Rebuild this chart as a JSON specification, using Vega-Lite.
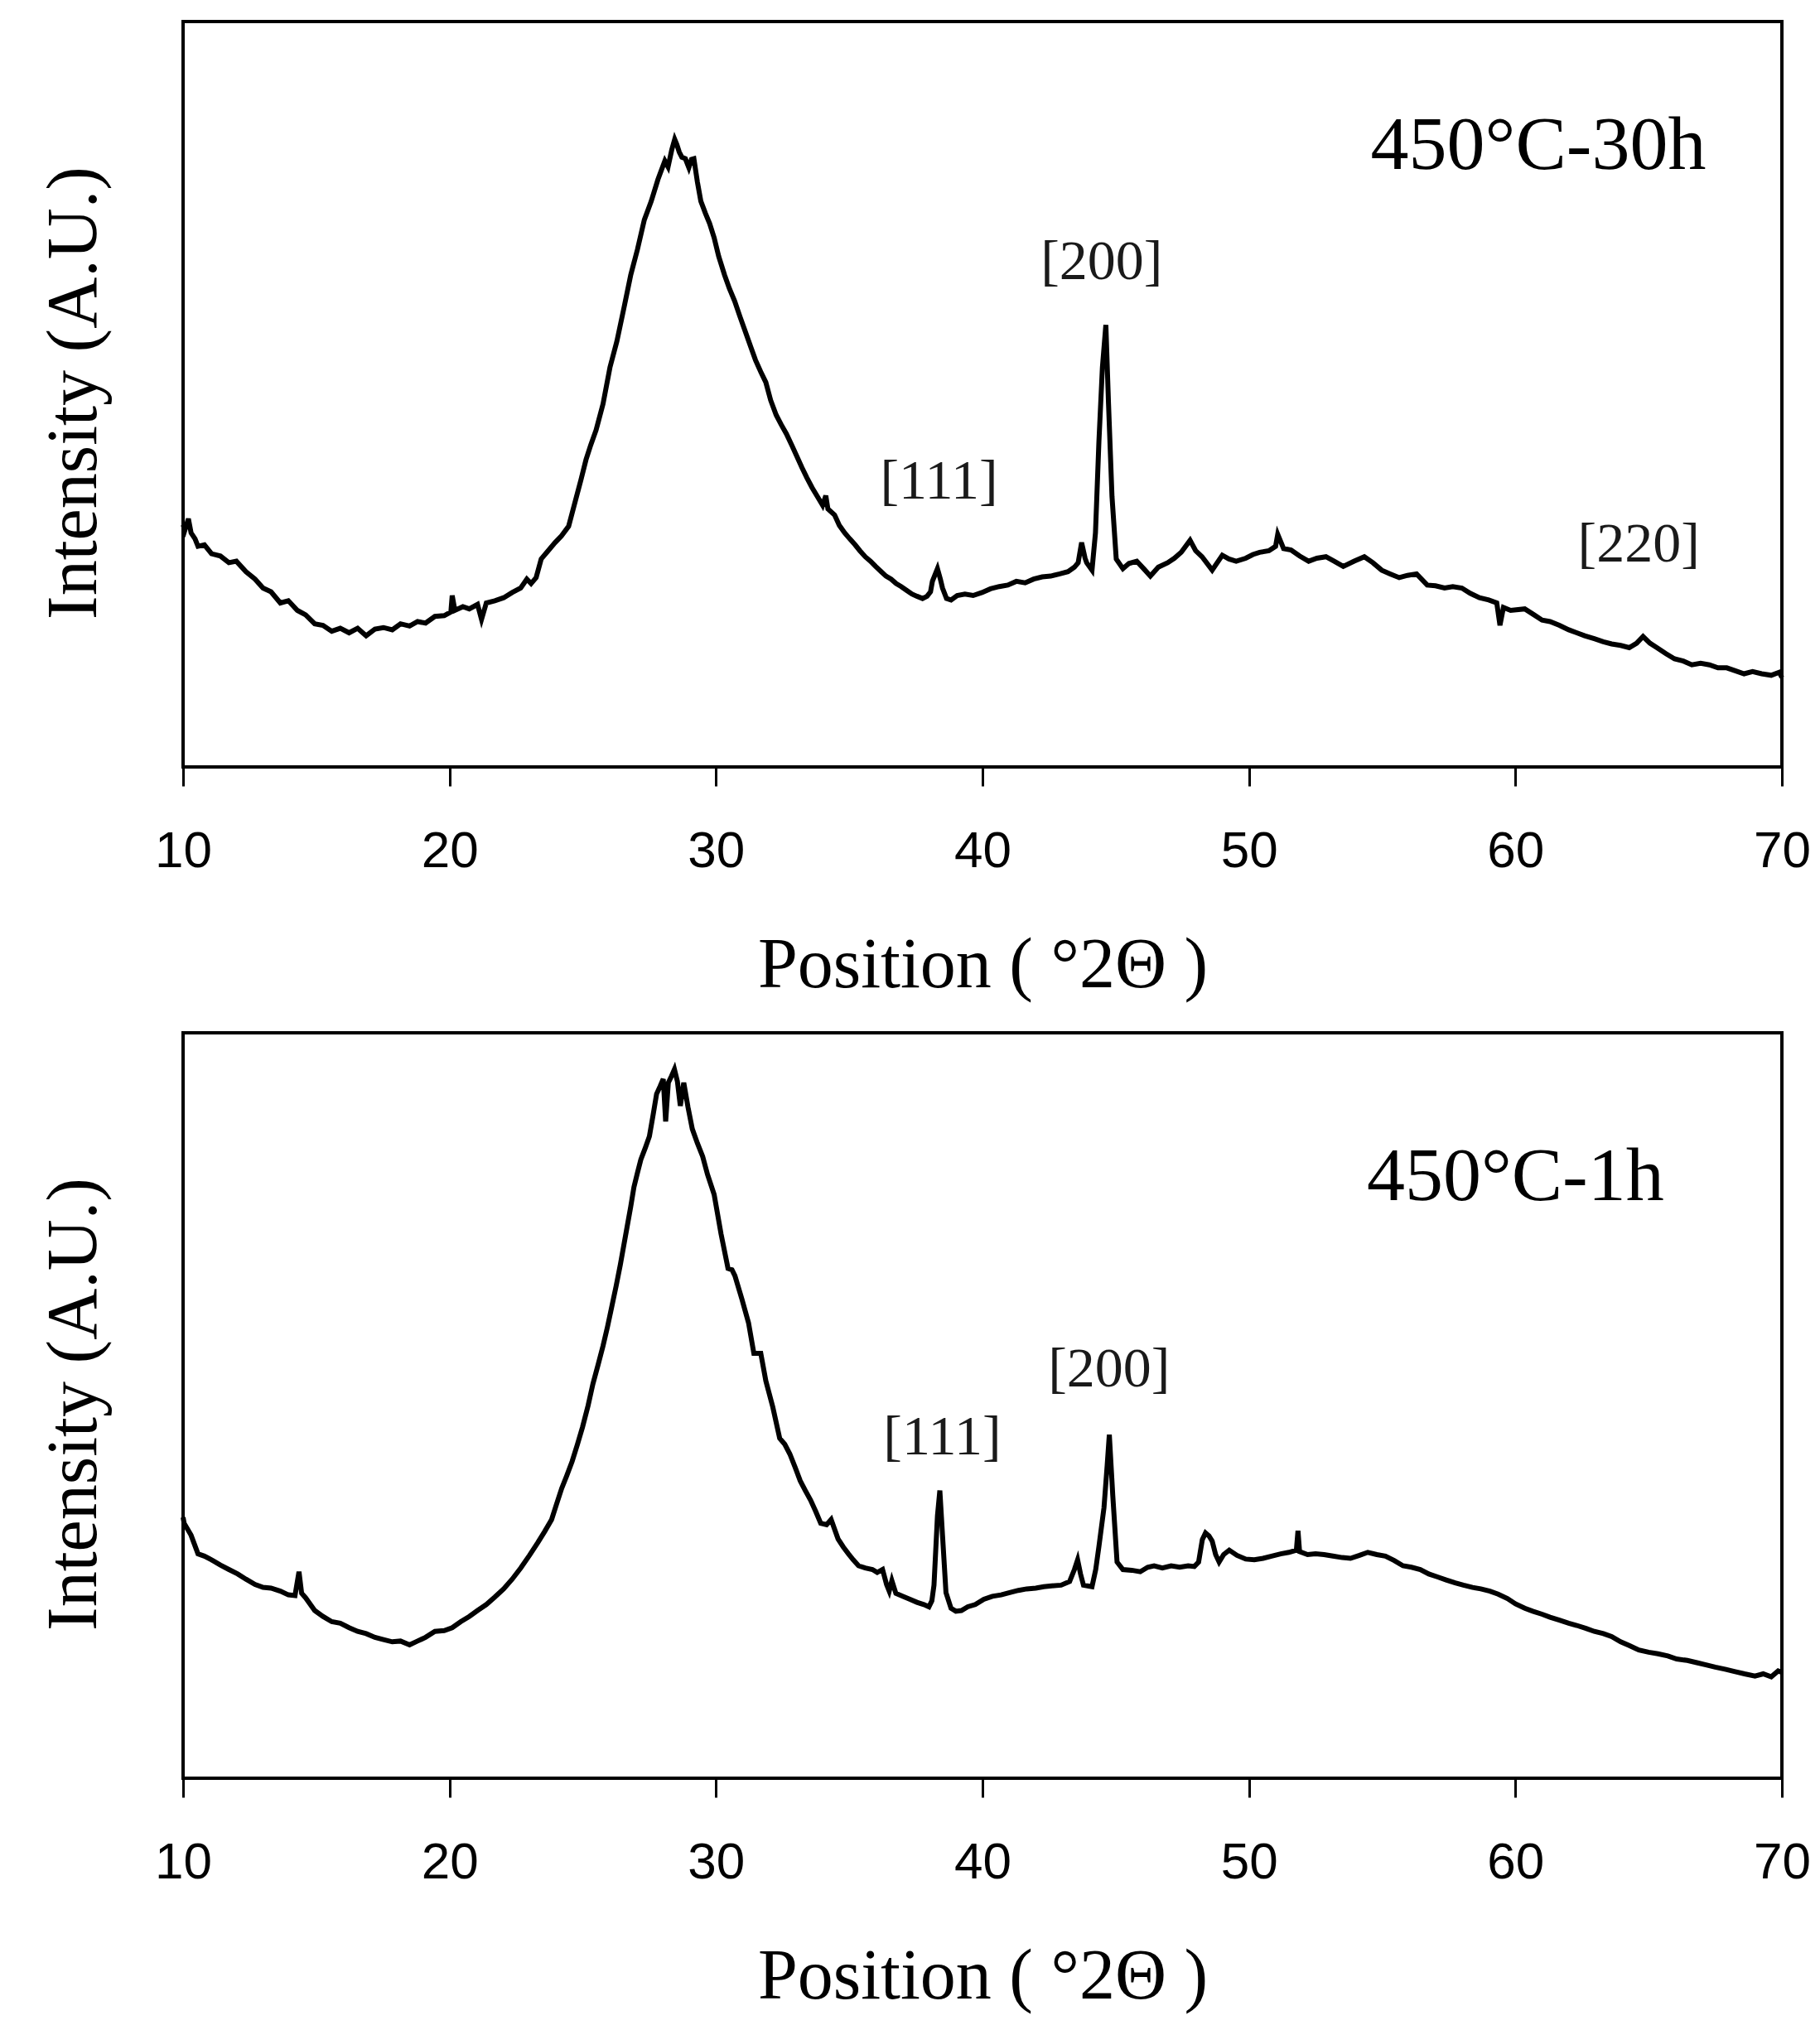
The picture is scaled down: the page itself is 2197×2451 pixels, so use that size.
{
  "$schema": "https://vega.github.io/schema/vega-lite/v6.json",
  "background": "white",
  "padding": {"left": 44, "top": 24, "right": 20, "bottom": 10},
  "bounds": "flush",
  "spacing": 321,
  "config": {
    "view": {"stroke": "black", "strokeWidth": 4},
    "axis": {"grid": false}
  },
  "datasets": {
    "scans": [
      {"panel": "30h", "pos": 10.0, "intensity": 32.5},
      {"panel": "30h", "pos": 10.07, "intensity": 31.8},
      {"panel": "30h", "pos": 10.2, "intensity": 33.3},
      {"panel": "30h", "pos": 10.3, "intensity": 31.4},
      {"panel": "30h", "pos": 10.45, "intensity": 30.6},
      {"panel": "30h", "pos": 10.56, "intensity": 29.6},
      {"panel": "30h", "pos": 10.8, "intensity": 29.8},
      {"panel": "30h", "pos": 11.07, "intensity": 28.6},
      {"panel": "30h", "pos": 11.4, "intensity": 28.3},
      {"panel": "30h", "pos": 11.72, "intensity": 27.4},
      {"panel": "30h", "pos": 12.0, "intensity": 27.6},
      {"panel": "30h", "pos": 12.36, "intensity": 26.2},
      {"panel": "30h", "pos": 12.7, "intensity": 25.2},
      {"panel": "30h", "pos": 13.0, "intensity": 24.0},
      {"panel": "30h", "pos": 13.3, "intensity": 23.5},
      {"panel": "30h", "pos": 13.65, "intensity": 22.0},
      {"panel": "30h", "pos": 13.95, "intensity": 22.3},
      {"panel": "30h", "pos": 14.29, "intensity": 21.0},
      {"panel": "30h", "pos": 14.6, "intensity": 20.4},
      {"panel": "30h", "pos": 14.94, "intensity": 19.2},
      {"panel": "30h", "pos": 15.25, "intensity": 19.0},
      {"panel": "30h", "pos": 15.58, "intensity": 18.2},
      {"panel": "30h", "pos": 15.9, "intensity": 18.6},
      {"panel": "30h", "pos": 16.23, "intensity": 18.0},
      {"panel": "30h", "pos": 16.55, "intensity": 18.6},
      {"panel": "30h", "pos": 16.87, "intensity": 17.6},
      {"panel": "30h", "pos": 17.2, "intensity": 18.5},
      {"panel": "30h", "pos": 17.52, "intensity": 18.7},
      {"panel": "30h", "pos": 17.85, "intensity": 18.4},
      {"panel": "30h", "pos": 18.16, "intensity": 19.2},
      {"panel": "30h", "pos": 18.5, "intensity": 18.9},
      {"panel": "30h", "pos": 18.8, "intensity": 19.5},
      {"panel": "30h", "pos": 19.1, "intensity": 19.3},
      {"panel": "30h", "pos": 19.45, "intensity": 20.2},
      {"panel": "30h", "pos": 19.8, "intensity": 20.3},
      {"panel": "30h", "pos": 20.05, "intensity": 20.8},
      {"panel": "30h", "pos": 20.1, "intensity": 23.0},
      {"panel": "30h", "pos": 20.2, "intensity": 21.0},
      {"panel": "30h", "pos": 20.5, "intensity": 21.5},
      {"panel": "30h", "pos": 20.74, "intensity": 21.2},
      {"panel": "30h", "pos": 21.05, "intensity": 21.8},
      {"panel": "30h", "pos": 21.2, "intensity": 19.8},
      {"panel": "30h", "pos": 21.38, "intensity": 22.0},
      {"panel": "30h", "pos": 21.7, "intensity": 22.3},
      {"panel": "30h", "pos": 22.03, "intensity": 22.7},
      {"panel": "30h", "pos": 22.35, "intensity": 23.4},
      {"panel": "30h", "pos": 22.67, "intensity": 24.0},
      {"panel": "30h", "pos": 22.9, "intensity": 25.2},
      {"panel": "30h", "pos": 23.06, "intensity": 24.6},
      {"panel": "30h", "pos": 23.25, "intensity": 25.4},
      {"panel": "30h", "pos": 23.44, "intensity": 27.9},
      {"panel": "30h", "pos": 23.7, "intensity": 29.0},
      {"panel": "30h", "pos": 23.96, "intensity": 30.1},
      {"panel": "30h", "pos": 24.2, "intensity": 31.0},
      {"panel": "30h", "pos": 24.47, "intensity": 32.3},
      {"panel": "30h", "pos": 24.73, "intensity": 35.8},
      {"panel": "30h", "pos": 24.93, "intensity": 38.5},
      {"panel": "30h", "pos": 25.12, "intensity": 41.2},
      {"panel": "30h", "pos": 25.3, "intensity": 43.2},
      {"panel": "30h", "pos": 25.5, "intensity": 45.2},
      {"panel": "30h", "pos": 25.76, "intensity": 48.7},
      {"panel": "30h", "pos": 26.02, "intensity": 53.6},
      {"panel": "30h", "pos": 26.28, "intensity": 57.1},
      {"panel": "30h", "pos": 26.54, "intensity": 61.5},
      {"panel": "30h", "pos": 26.8, "intensity": 66.0},
      {"panel": "30h", "pos": 27.05, "intensity": 69.4},
      {"panel": "30h", "pos": 27.31, "intensity": 73.4},
      {"panel": "30h", "pos": 27.57, "intensity": 75.9},
      {"panel": "30h", "pos": 27.82, "intensity": 78.8},
      {"panel": "30h", "pos": 28.08, "intensity": 81.3},
      {"panel": "30h", "pos": 28.2, "intensity": 80.5},
      {"panel": "30h", "pos": 28.34, "intensity": 82.8},
      {"panel": "30h", "pos": 28.45, "intensity": 84.2},
      {"panel": "30h", "pos": 28.53, "intensity": 83.5},
      {"panel": "30h", "pos": 28.62, "intensity": 82.5},
      {"panel": "30h", "pos": 28.72, "intensity": 81.8},
      {"panel": "30h", "pos": 28.85, "intensity": 81.6},
      {"panel": "30h", "pos": 28.98, "intensity": 80.4},
      {"panel": "30h", "pos": 29.08, "intensity": 81.5},
      {"panel": "30h", "pos": 29.17, "intensity": 81.6},
      {"panel": "30h", "pos": 29.3, "intensity": 78.5},
      {"panel": "30h", "pos": 29.43, "intensity": 75.9},
      {"panel": "30h", "pos": 29.6, "intensity": 74.3},
      {"panel": "30h", "pos": 29.76, "intensity": 72.9},
      {"panel": "30h", "pos": 29.93, "intensity": 71.0},
      {"panel": "30h", "pos": 30.1, "intensity": 68.5},
      {"panel": "30h", "pos": 30.32, "intensity": 66.0},
      {"panel": "30h", "pos": 30.5, "intensity": 64.2},
      {"panel": "30h", "pos": 30.7, "intensity": 62.5},
      {"panel": "30h", "pos": 30.9, "intensity": 60.4},
      {"panel": "30h", "pos": 31.09, "intensity": 58.5},
      {"panel": "30h", "pos": 31.3, "intensity": 56.4},
      {"panel": "30h", "pos": 31.48, "intensity": 54.6},
      {"panel": "30h", "pos": 31.68, "intensity": 53.0},
      {"panel": "30h", "pos": 31.87, "intensity": 51.6},
      {"panel": "30h", "pos": 32.05, "intensity": 49.2},
      {"panel": "30h", "pos": 32.26, "intensity": 47.2},
      {"panel": "30h", "pos": 32.45, "intensity": 45.9},
      {"panel": "30h", "pos": 32.64, "intensity": 44.7},
      {"panel": "30h", "pos": 32.85, "intensity": 43.1},
      {"panel": "30h", "pos": 33.03, "intensity": 41.7},
      {"panel": "30h", "pos": 33.22, "intensity": 40.2},
      {"panel": "30h", "pos": 33.41, "intensity": 38.8},
      {"panel": "30h", "pos": 33.6, "intensity": 37.5},
      {"panel": "30h", "pos": 33.8, "intensity": 36.3},
      {"panel": "30h", "pos": 34.0, "intensity": 35.1},
      {"panel": "30h", "pos": 34.12, "intensity": 36.4},
      {"panel": "30h", "pos": 34.2, "intensity": 34.6},
      {"panel": "30h", "pos": 34.45, "intensity": 33.8},
      {"panel": "30h", "pos": 34.63, "intensity": 32.4},
      {"panel": "30h", "pos": 34.83, "intensity": 31.4},
      {"panel": "30h", "pos": 35.02, "intensity": 30.6},
      {"panel": "30h", "pos": 35.22, "intensity": 29.8},
      {"panel": "30h", "pos": 35.4, "intensity": 29.0},
      {"panel": "30h", "pos": 35.6, "intensity": 28.2},
      {"panel": "30h", "pos": 35.8, "intensity": 27.6},
      {"panel": "30h", "pos": 35.99, "intensity": 26.9},
      {"panel": "30h", "pos": 36.2, "intensity": 26.2},
      {"panel": "30h", "pos": 36.38, "intensity": 25.6},
      {"panel": "30h", "pos": 36.57, "intensity": 25.2},
      {"panel": "30h", "pos": 36.76, "intensity": 24.6},
      {"panel": "30h", "pos": 36.95, "intensity": 24.2},
      {"panel": "30h", "pos": 37.15, "intensity": 23.7},
      {"panel": "30h", "pos": 37.35, "intensity": 23.2},
      {"panel": "30h", "pos": 37.54, "intensity": 22.9},
      {"panel": "30h", "pos": 37.75, "intensity": 22.6},
      {"panel": "30h", "pos": 37.92, "intensity": 22.9},
      {"panel": "30h", "pos": 38.05, "intensity": 23.5},
      {"panel": "30h", "pos": 38.12, "intensity": 24.9},
      {"panel": "30h", "pos": 38.31, "intensity": 26.6},
      {"panel": "30h", "pos": 38.42, "intensity": 25.2},
      {"panel": "30h", "pos": 38.5, "intensity": 24.0},
      {"panel": "30h", "pos": 38.65, "intensity": 22.6},
      {"panel": "30h", "pos": 38.82, "intensity": 22.4},
      {"panel": "30h", "pos": 39.05, "intensity": 23.0},
      {"panel": "30h", "pos": 39.34, "intensity": 23.2},
      {"panel": "30h", "pos": 39.65, "intensity": 23.0},
      {"panel": "30h", "pos": 39.98, "intensity": 23.4},
      {"panel": "30h", "pos": 40.3, "intensity": 23.9},
      {"panel": "30h", "pos": 40.63, "intensity": 24.2},
      {"panel": "30h", "pos": 40.95, "intensity": 24.4},
      {"panel": "30h", "pos": 41.27, "intensity": 24.9},
      {"panel": "30h", "pos": 41.6, "intensity": 24.7},
      {"panel": "30h", "pos": 41.92, "intensity": 25.2},
      {"panel": "30h", "pos": 42.24, "intensity": 25.5},
      {"panel": "30h", "pos": 42.56, "intensity": 25.6},
      {"panel": "30h", "pos": 42.9, "intensity": 25.9},
      {"panel": "30h", "pos": 43.21, "intensity": 26.2},
      {"panel": "30h", "pos": 43.45, "intensity": 26.8},
      {"panel": "30h", "pos": 43.59, "intensity": 27.4},
      {"panel": "30h", "pos": 43.72, "intensity": 30.1},
      {"panel": "30h", "pos": 43.85, "intensity": 28.0},
      {"panel": "30h", "pos": 43.91, "intensity": 27.4},
      {"panel": "30h", "pos": 44.11, "intensity": 26.4},
      {"panel": "30h", "pos": 44.24, "intensity": 31.4},
      {"panel": "30h", "pos": 44.37, "intensity": 43.7},
      {"panel": "30h", "pos": 44.5, "intensity": 53.6},
      {"panel": "30h", "pos": 44.63, "intensity": 59.3},
      {"panel": "30h", "pos": 44.73, "intensity": 48.7},
      {"panel": "30h", "pos": 44.86, "intensity": 36.3},
      {"panel": "30h", "pos": 45.02, "intensity": 27.9},
      {"panel": "30h", "pos": 45.27, "intensity": 26.6},
      {"panel": "30h", "pos": 45.5, "intensity": 27.3},
      {"panel": "30h", "pos": 45.79, "intensity": 27.6},
      {"panel": "30h", "pos": 46.05, "intensity": 26.6},
      {"panel": "30h", "pos": 46.3, "intensity": 25.6},
      {"panel": "30h", "pos": 46.6, "intensity": 26.8},
      {"panel": "30h", "pos": 46.95, "intensity": 27.4},
      {"panel": "30h", "pos": 47.2, "intensity": 28.0},
      {"panel": "30h", "pos": 47.46, "intensity": 28.8},
      {"panel": "30h", "pos": 47.79, "intensity": 30.4},
      {"panel": "30h", "pos": 48.0, "intensity": 29.0},
      {"panel": "30h", "pos": 48.24, "intensity": 28.2},
      {"panel": "30h", "pos": 48.62, "intensity": 26.4},
      {"panel": "30h", "pos": 49.0, "intensity": 28.4},
      {"panel": "30h", "pos": 49.25, "intensity": 27.9},
      {"panel": "30h", "pos": 49.52, "intensity": 27.6},
      {"panel": "30h", "pos": 49.88, "intensity": 28.0},
      {"panel": "30h", "pos": 50.15, "intensity": 28.5},
      {"panel": "30h", "pos": 50.4, "intensity": 28.8},
      {"panel": "30h", "pos": 50.75, "intensity": 29.0},
      {"panel": "30h", "pos": 51.0, "intensity": 29.6},
      {"panel": "30h", "pos": 51.08, "intensity": 31.2},
      {"panel": "30h", "pos": 51.3, "intensity": 29.3},
      {"panel": "30h", "pos": 51.58, "intensity": 29.1},
      {"panel": "30h", "pos": 51.9, "intensity": 28.3},
      {"panel": "30h", "pos": 52.24, "intensity": 27.6},
      {"panel": "30h", "pos": 52.55, "intensity": 28.0},
      {"panel": "30h", "pos": 52.89, "intensity": 28.2},
      {"panel": "30h", "pos": 53.2, "intensity": 27.6},
      {"panel": "30h", "pos": 53.54, "intensity": 26.9},
      {"panel": "30h", "pos": 53.95, "intensity": 27.6},
      {"panel": "30h", "pos": 54.33, "intensity": 28.2},
      {"panel": "30h", "pos": 54.65, "intensity": 27.4},
      {"panel": "30h", "pos": 54.98, "intensity": 26.4},
      {"panel": "30h", "pos": 55.3, "intensity": 25.9},
      {"panel": "30h", "pos": 55.64, "intensity": 25.4},
      {"panel": "30h", "pos": 55.95, "intensity": 25.7},
      {"panel": "30h", "pos": 56.29, "intensity": 25.9},
      {"panel": "30h", "pos": 56.69, "intensity": 24.4},
      {"panel": "30h", "pos": 57.0, "intensity": 24.3},
      {"panel": "30h", "pos": 57.34, "intensity": 24.0},
      {"panel": "30h", "pos": 57.65, "intensity": 24.2},
      {"panel": "30h", "pos": 57.99, "intensity": 24.0},
      {"panel": "30h", "pos": 58.3, "intensity": 23.3},
      {"panel": "30h", "pos": 58.65, "intensity": 22.7},
      {"panel": "30h", "pos": 59.0, "intensity": 22.4},
      {"panel": "30h", "pos": 59.3, "intensity": 22.0},
      {"panel": "30h", "pos": 59.42, "intensity": 19.0},
      {"panel": "30h", "pos": 59.55, "intensity": 21.4},
      {"panel": "30h", "pos": 59.82, "intensity": 21.0},
      {"panel": "30h", "pos": 60.35, "intensity": 21.2},
      {"panel": "30h", "pos": 60.7, "intensity": 20.4},
      {"panel": "30h", "pos": 61.0, "intensity": 19.7},
      {"panel": "30h", "pos": 61.3, "intensity": 19.5},
      {"panel": "30h", "pos": 61.65, "intensity": 19.0},
      {"panel": "30h", "pos": 62.0, "intensity": 18.4},
      {"panel": "30h", "pos": 62.3, "intensity": 18.0},
      {"panel": "30h", "pos": 62.6, "intensity": 17.6},
      {"panel": "30h", "pos": 62.96, "intensity": 17.2},
      {"panel": "30h", "pos": 63.3, "intensity": 16.8},
      {"panel": "30h", "pos": 63.61, "intensity": 16.5},
      {"panel": "30h", "pos": 63.95, "intensity": 16.3},
      {"panel": "30h", "pos": 64.27, "intensity": 16.0},
      {"panel": "30h", "pos": 64.55, "intensity": 16.6},
      {"panel": "30h", "pos": 64.79, "intensity": 17.5},
      {"panel": "30h", "pos": 65.05, "intensity": 16.6},
      {"panel": "30h", "pos": 65.31, "intensity": 16.0},
      {"panel": "30h", "pos": 65.65, "intensity": 15.2},
      {"panel": "30h", "pos": 65.97, "intensity": 14.5},
      {"panel": "30h", "pos": 66.3, "intensity": 14.2},
      {"panel": "30h", "pos": 66.62, "intensity": 13.7},
      {"panel": "30h", "pos": 66.95, "intensity": 13.9},
      {"panel": "30h", "pos": 67.28, "intensity": 13.7},
      {"panel": "30h", "pos": 67.6, "intensity": 13.3},
      {"panel": "30h", "pos": 67.93, "intensity": 13.3},
      {"panel": "30h", "pos": 68.25, "intensity": 12.9},
      {"panel": "30h", "pos": 68.58, "intensity": 12.5},
      {"panel": "30h", "pos": 68.9, "intensity": 12.8},
      {"panel": "30h", "pos": 69.24, "intensity": 12.5},
      {"panel": "30h", "pos": 69.6, "intensity": 12.3},
      {"panel": "30h", "pos": 69.9, "intensity": 12.7},
      {"panel": "30h", "pos": 70.0, "intensity": 12.0},
      {"panel": "1h", "pos": 10.0, "intensity": 35.0},
      {"panel": "1h", "pos": 10.04, "intensity": 34.2},
      {"panel": "1h", "pos": 10.3, "intensity": 32.6},
      {"panel": "1h", "pos": 10.56, "intensity": 30.1},
      {"panel": "1h", "pos": 10.8, "intensity": 29.8},
      {"panel": "1h", "pos": 11.07, "intensity": 29.3},
      {"panel": "1h", "pos": 11.4, "intensity": 28.6},
      {"panel": "1h", "pos": 11.72, "intensity": 28.0},
      {"panel": "1h", "pos": 12.05, "intensity": 27.4},
      {"panel": "1h", "pos": 12.36, "intensity": 26.7},
      {"panel": "1h", "pos": 12.7, "intensity": 26.0},
      {"panel": "1h", "pos": 13.0, "intensity": 25.6},
      {"panel": "1h", "pos": 13.3, "intensity": 25.5},
      {"panel": "1h", "pos": 13.65, "intensity": 25.1},
      {"panel": "1h", "pos": 13.95, "intensity": 24.6},
      {"panel": "1h", "pos": 14.2, "intensity": 24.5},
      {"panel": "1h", "pos": 14.35, "intensity": 27.7},
      {"panel": "1h", "pos": 14.45, "intensity": 24.8},
      {"panel": "1h", "pos": 14.6, "intensity": 24.2},
      {"panel": "1h", "pos": 14.94, "intensity": 22.5},
      {"panel": "1h", "pos": 15.25, "intensity": 21.7},
      {"panel": "1h", "pos": 15.58, "intensity": 21.0},
      {"panel": "1h", "pos": 15.9, "intensity": 20.8},
      {"panel": "1h", "pos": 16.23, "intensity": 20.2},
      {"panel": "1h", "pos": 16.55, "intensity": 19.7},
      {"panel": "1h", "pos": 16.87, "intensity": 19.4},
      {"panel": "1h", "pos": 17.2, "intensity": 18.9},
      {"panel": "1h", "pos": 17.52, "intensity": 18.6},
      {"panel": "1h", "pos": 17.85, "intensity": 18.3},
      {"panel": "1h", "pos": 18.16, "intensity": 18.4},
      {"panel": "1h", "pos": 18.5, "intensity": 17.9},
      {"panel": "1h", "pos": 18.8, "intensity": 18.4},
      {"panel": "1h", "pos": 19.1, "intensity": 18.9},
      {"panel": "1h", "pos": 19.45, "intensity": 19.7},
      {"panel": "1h", "pos": 19.8, "intensity": 19.8},
      {"panel": "1h", "pos": 20.1, "intensity": 20.2},
      {"panel": "1h", "pos": 20.42, "intensity": 21.0},
      {"panel": "1h", "pos": 20.74, "intensity": 21.7},
      {"panel": "1h", "pos": 21.05, "intensity": 22.5},
      {"panel": "1h", "pos": 21.38, "intensity": 23.3},
      {"panel": "1h", "pos": 21.7, "intensity": 24.3},
      {"panel": "1h", "pos": 22.03, "intensity": 25.4},
      {"panel": "1h", "pos": 22.35, "intensity": 26.7},
      {"panel": "1h", "pos": 22.67, "intensity": 28.2},
      {"panel": "1h", "pos": 23.0, "intensity": 29.9},
      {"panel": "1h", "pos": 23.31, "intensity": 31.6},
      {"panel": "1h", "pos": 23.57, "intensity": 33.1},
      {"panel": "1h", "pos": 23.83, "intensity": 34.7},
      {"panel": "1h", "pos": 24.0, "intensity": 36.6},
      {"panel": "1h", "pos": 24.21, "intensity": 38.9},
      {"panel": "1h", "pos": 24.4, "intensity": 40.6},
      {"panel": "1h", "pos": 24.6, "intensity": 42.5},
      {"panel": "1h", "pos": 24.8, "intensity": 44.8},
      {"panel": "1h", "pos": 24.99, "intensity": 47.1},
      {"panel": "1h", "pos": 25.2, "intensity": 50.0},
      {"panel": "1h", "pos": 25.38, "intensity": 52.9},
      {"panel": "1h", "pos": 25.57, "intensity": 55.4},
      {"panel": "1h", "pos": 25.76, "intensity": 58.0},
      {"panel": "1h", "pos": 25.93, "intensity": 60.6},
      {"panel": "1h", "pos": 26.09, "intensity": 63.3},
      {"panel": "1h", "pos": 26.25, "intensity": 66.0},
      {"panel": "1h", "pos": 26.41, "intensity": 68.9},
      {"panel": "1h", "pos": 26.54, "intensity": 71.5},
      {"panel": "1h", "pos": 26.67, "intensity": 74.1},
      {"panel": "1h", "pos": 26.8, "intensity": 76.7},
      {"panel": "1h", "pos": 26.92, "intensity": 79.3},
      {"panel": "1h", "pos": 27.05, "intensity": 81.2},
      {"panel": "1h", "pos": 27.18, "intensity": 83.0},
      {"panel": "1h", "pos": 27.35, "intensity": 84.6},
      {"panel": "1h", "pos": 27.5, "intensity": 86.1},
      {"panel": "1h", "pos": 27.64, "intensity": 89.0},
      {"panel": "1h", "pos": 27.77, "intensity": 91.8},
      {"panel": "1h", "pos": 27.9, "intensity": 92.8},
      {"panel": "1h", "pos": 28.02, "intensity": 93.8},
      {"panel": "1h", "pos": 28.11, "intensity": 88.1},
      {"panel": "1h", "pos": 28.21, "intensity": 93.3},
      {"panel": "1h", "pos": 28.33, "intensity": 94.2},
      {"panel": "1h", "pos": 28.44, "intensity": 95.1},
      {"panel": "1h", "pos": 28.55, "intensity": 93.5},
      {"panel": "1h", "pos": 28.66, "intensity": 90.2},
      {"panel": "1h", "pos": 28.79, "intensity": 93.3},
      {"panel": "1h", "pos": 28.95, "intensity": 90.0},
      {"panel": "1h", "pos": 29.11, "intensity": 87.1},
      {"panel": "1h", "pos": 29.3, "intensity": 85.2},
      {"panel": "1h", "pos": 29.5, "intensity": 83.4},
      {"panel": "1h", "pos": 29.68, "intensity": 81.0},
      {"panel": "1h", "pos": 29.93, "intensity": 78.3},
      {"panel": "1h", "pos": 30.19, "intensity": 73.0},
      {"panel": "1h", "pos": 30.45, "intensity": 68.4},
      {"panel": "1h", "pos": 30.6, "intensity": 68.2},
      {"panel": "1h", "pos": 30.71, "intensity": 67.4},
      {"panel": "1h", "pos": 30.97, "intensity": 64.3},
      {"panel": "1h", "pos": 31.22, "intensity": 61.1},
      {"panel": "1h", "pos": 31.42, "intensity": 57.0},
      {"panel": "1h", "pos": 31.68, "intensity": 57.0},
      {"panel": "1h", "pos": 31.87, "intensity": 53.3},
      {"panel": "1h", "pos": 32.13, "intensity": 49.8},
      {"panel": "1h", "pos": 32.39, "intensity": 45.6},
      {"panel": "1h", "pos": 32.58, "intensity": 44.8},
      {"panel": "1h", "pos": 32.77, "intensity": 43.5},
      {"panel": "1h", "pos": 32.96, "intensity": 41.8},
      {"panel": "1h", "pos": 33.16, "intensity": 39.9},
      {"panel": "1h", "pos": 33.35, "intensity": 38.6},
      {"panel": "1h", "pos": 33.55, "intensity": 37.3},
      {"panel": "1h", "pos": 33.74, "intensity": 35.8},
      {"panel": "1h", "pos": 33.93, "intensity": 34.2},
      {"panel": "1h", "pos": 34.15, "intensity": 34.0},
      {"panel": "1h", "pos": 34.32, "intensity": 34.7},
      {"panel": "1h", "pos": 34.58, "intensity": 32.1},
      {"panel": "1h", "pos": 34.78, "intensity": 31.0},
      {"panel": "1h", "pos": 34.97, "intensity": 30.1},
      {"panel": "1h", "pos": 35.15, "intensity": 29.3},
      {"panel": "1h", "pos": 35.35, "intensity": 28.5},
      {"panel": "1h", "pos": 35.6, "intensity": 28.2},
      {"panel": "1h", "pos": 35.87, "intensity": 28.0},
      {"panel": "1h", "pos": 36.05, "intensity": 27.6},
      {"panel": "1h", "pos": 36.25, "intensity": 28.0},
      {"panel": "1h", "pos": 36.4, "intensity": 26.0},
      {"panel": "1h", "pos": 36.5, "intensity": 25.1},
      {"panel": "1h", "pos": 36.6, "intensity": 26.5},
      {"panel": "1h", "pos": 36.75, "intensity": 24.8},
      {"panel": "1h", "pos": 37.02, "intensity": 24.4},
      {"panel": "1h", "pos": 37.28, "intensity": 24.0},
      {"panel": "1h", "pos": 37.54, "intensity": 23.6},
      {"panel": "1h", "pos": 37.8, "intensity": 23.3},
      {"panel": "1h", "pos": 37.99, "intensity": 23.0},
      {"panel": "1h", "pos": 38.1, "intensity": 23.8},
      {"panel": "1h", "pos": 38.18, "intensity": 25.9},
      {"panel": "1h", "pos": 38.31, "intensity": 35.2},
      {"panel": "1h", "pos": 38.4, "intensity": 38.6},
      {"panel": "1h", "pos": 38.5, "intensity": 32.6},
      {"panel": "1h", "pos": 38.63, "intensity": 24.9},
      {"panel": "1h", "pos": 38.82, "intensity": 22.8},
      {"panel": "1h", "pos": 39.0, "intensity": 22.4},
      {"panel": "1h", "pos": 39.21, "intensity": 22.5},
      {"panel": "1h", "pos": 39.45, "intensity": 23.0},
      {"panel": "1h", "pos": 39.73, "intensity": 23.3},
      {"panel": "1h", "pos": 40.05, "intensity": 24.0},
      {"panel": "1h", "pos": 40.37, "intensity": 24.4},
      {"panel": "1h", "pos": 40.7, "intensity": 24.6},
      {"panel": "1h", "pos": 41.02, "intensity": 24.9},
      {"panel": "1h", "pos": 41.35, "intensity": 25.2},
      {"panel": "1h", "pos": 41.66, "intensity": 25.4},
      {"panel": "1h", "pos": 42.0, "intensity": 25.5},
      {"panel": "1h", "pos": 42.3, "intensity": 25.7},
      {"panel": "1h", "pos": 42.6, "intensity": 25.8},
      {"panel": "1h", "pos": 42.95, "intensity": 25.9},
      {"panel": "1h", "pos": 43.27, "intensity": 26.4},
      {"panel": "1h", "pos": 43.45, "intensity": 28.0},
      {"panel": "1h", "pos": 43.57, "intensity": 29.3},
      {"panel": "1h", "pos": 43.68, "intensity": 27.4},
      {"panel": "1h", "pos": 43.79, "intensity": 25.9},
      {"panel": "1h", "pos": 44.11, "intensity": 25.7},
      {"panel": "1h", "pos": 44.25, "intensity": 28.0},
      {"panel": "1h", "pos": 44.37, "intensity": 31.1},
      {"panel": "1h", "pos": 44.56, "intensity": 36.3},
      {"panel": "1h", "pos": 44.68, "intensity": 42.0},
      {"panel": "1h", "pos": 44.76, "intensity": 46.1},
      {"panel": "1h", "pos": 44.89, "intensity": 37.9},
      {"panel": "1h", "pos": 45.05, "intensity": 29.0},
      {"panel": "1h", "pos": 45.27, "intensity": 28.0},
      {"panel": "1h", "pos": 45.6, "intensity": 27.9},
      {"panel": "1h", "pos": 45.92, "intensity": 27.7},
      {"panel": "1h", "pos": 46.2, "intensity": 28.3},
      {"panel": "1h", "pos": 46.44, "intensity": 28.5},
      {"panel": "1h", "pos": 46.75, "intensity": 28.2},
      {"panel": "1h", "pos": 47.08, "intensity": 28.5},
      {"panel": "1h", "pos": 47.4, "intensity": 28.3},
      {"panel": "1h", "pos": 47.72, "intensity": 28.5},
      {"panel": "1h", "pos": 47.95, "intensity": 28.4},
      {"panel": "1h", "pos": 48.11, "intensity": 29.0},
      {"panel": "1h", "pos": 48.25, "intensity": 32.0},
      {"panel": "1h", "pos": 48.37, "intensity": 32.9},
      {"panel": "1h", "pos": 48.5, "intensity": 32.5},
      {"panel": "1h", "pos": 48.62, "intensity": 31.8},
      {"panel": "1h", "pos": 48.75, "intensity": 30.0},
      {"panel": "1h", "pos": 48.88, "intensity": 29.0},
      {"panel": "1h", "pos": 49.05, "intensity": 30.0},
      {"panel": "1h", "pos": 49.26, "intensity": 30.6},
      {"panel": "1h", "pos": 49.55, "intensity": 29.9},
      {"panel": "1h", "pos": 49.88, "intensity": 29.4},
      {"panel": "1h", "pos": 50.2, "intensity": 29.3},
      {"panel": "1h", "pos": 50.53, "intensity": 29.5},
      {"panel": "1h", "pos": 50.85, "intensity": 29.8},
      {"panel": "1h", "pos": 51.19, "intensity": 30.1},
      {"panel": "1h", "pos": 51.5, "intensity": 30.3},
      {"panel": "1h", "pos": 51.78, "intensity": 30.6},
      {"panel": "1h", "pos": 51.84, "intensity": 33.2},
      {"panel": "1h", "pos": 51.9, "intensity": 30.4},
      {"panel": "1h", "pos": 52.2, "intensity": 30.0},
      {"panel": "1h", "pos": 52.5, "intensity": 30.1},
      {"panel": "1h", "pos": 52.82, "intensity": 30.0},
      {"panel": "1h", "pos": 53.15, "intensity": 29.8},
      {"panel": "1h", "pos": 53.5, "intensity": 29.6},
      {"panel": "1h", "pos": 53.81, "intensity": 29.5},
      {"panel": "1h", "pos": 54.15, "intensity": 29.9},
      {"panel": "1h", "pos": 54.46, "intensity": 30.3},
      {"panel": "1h", "pos": 54.8, "intensity": 30.0},
      {"panel": "1h", "pos": 55.12, "intensity": 29.8},
      {"panel": "1h", "pos": 55.45, "intensity": 29.2},
      {"panel": "1h", "pos": 55.78, "intensity": 28.5},
      {"panel": "1h", "pos": 56.1, "intensity": 28.3},
      {"panel": "1h", "pos": 56.43, "intensity": 28.0},
      {"panel": "1h", "pos": 56.75, "intensity": 27.4},
      {"panel": "1h", "pos": 57.08, "intensity": 27.0},
      {"panel": "1h", "pos": 57.4, "intensity": 26.6},
      {"panel": "1h", "pos": 57.74, "intensity": 26.2},
      {"panel": "1h", "pos": 58.05, "intensity": 25.9},
      {"panel": "1h", "pos": 58.39, "intensity": 25.6},
      {"panel": "1h", "pos": 58.7, "intensity": 25.4},
      {"panel": "1h", "pos": 59.04, "intensity": 25.1},
      {"panel": "1h", "pos": 59.35, "intensity": 24.7},
      {"panel": "1h", "pos": 59.7, "intensity": 24.1},
      {"panel": "1h", "pos": 60.0, "intensity": 23.4},
      {"panel": "1h", "pos": 60.35, "intensity": 22.8},
      {"panel": "1h", "pos": 60.65, "intensity": 22.4},
      {"panel": "1h", "pos": 61.0, "intensity": 22.0},
      {"panel": "1h", "pos": 61.3, "intensity": 21.6},
      {"panel": "1h", "pos": 61.65, "intensity": 21.2},
      {"panel": "1h", "pos": 62.0, "intensity": 20.8},
      {"panel": "1h", "pos": 62.3, "intensity": 20.5},
      {"panel": "1h", "pos": 62.65, "intensity": 20.1},
      {"panel": "1h", "pos": 62.96, "intensity": 19.7},
      {"panel": "1h", "pos": 63.3, "intensity": 19.4},
      {"panel": "1h", "pos": 63.61, "intensity": 19.0},
      {"panel": "1h", "pos": 63.95, "intensity": 18.3},
      {"panel": "1h", "pos": 64.27, "intensity": 17.8},
      {"panel": "1h", "pos": 64.63, "intensity": 17.2},
      {"panel": "1h", "pos": 65.0, "intensity": 16.9},
      {"panel": "1h", "pos": 65.35, "intensity": 16.7},
      {"panel": "1h", "pos": 65.72, "intensity": 16.4},
      {"panel": "1h", "pos": 66.05, "intensity": 16.0},
      {"panel": "1h", "pos": 66.45, "intensity": 15.8},
      {"panel": "1h", "pos": 66.81, "intensity": 15.5},
      {"panel": "1h", "pos": 67.15, "intensity": 15.2},
      {"panel": "1h", "pos": 67.5, "intensity": 14.9},
      {"panel": "1h", "pos": 67.9, "intensity": 14.6},
      {"panel": "1h", "pos": 68.25, "intensity": 14.3},
      {"panel": "1h", "pos": 68.6, "intensity": 14.0},
      {"panel": "1h", "pos": 68.99, "intensity": 13.7},
      {"panel": "1h", "pos": 69.3, "intensity": 14.0},
      {"panel": "1h", "pos": 69.6, "intensity": 13.6},
      {"panel": "1h", "pos": 69.86, "intensity": 14.4},
      {"panel": "1h", "pos": 70.0, "intensity": 14.2}
    ],
    "notes": [
      {"panel": "30h", "pos": 60.86, "intensity": 80.2, "label": "450°C-30h", "kind": "title"},
      {"panel": "30h", "pos": 44.47, "intensity": 65.5, "label": "[200]", "kind": "peak"},
      {"panel": "30h", "pos": 38.37, "intensity": 36.0, "label": "[111]", "kind": "peak"},
      {"panel": "30h", "pos": 64.63, "intensity": 27.6, "label": "[220]", "kind": "peak"},
      {"panel": "1h", "pos": 60.0, "intensity": 77.6, "label": "450°C-1h", "kind": "title"},
      {"panel": "1h", "pos": 44.75, "intensity": 52.6, "label": "[200]", "kind": "peak"},
      {"panel": "1h", "pos": 38.49, "intensity": 43.5, "label": "[111]", "kind": "peak"}
    ]
  },
  "vconcat": [
    {
      "width": 1930,
      "height": 900,
      "layer": [
        {
          "data": {"name": "scans"},
          "transform": [{"filter": "datum.panel === '30h'"}],
          "mark": {"type": "line", "color": "black", "strokeWidth": 6},
          "encoding": {
            "x": {
              "field": "pos", "type": "quantitative",
              "scale": {"domain": [10, 70], "nice": false, "zero": false},
              "axis": {
                "values": [10, 20, 30, 40, 50, 60, 70],
                "domain": false, "tickColor": "black", "tickWidth": 3, "tickSize": 23,
                "labelFont": "Liberation Sans", "labelFontSize": 62, "labelColor": "black",
                "labelBaseline": "alphabetic", "labelPadding": 97, "labelFlush": false,
                "title": "Position ( °2Θ )", "titleFont": "Liberation Serif", "titleFontSize": 86,
                "titleFontWeight": "normal", "titleColor": "black",
                "titleBaseline": "alphabetic", "titleX": 965, "titleY": 265, "titleAlign": "center"
              }
            },
            "y": {
              "field": "intensity", "type": "quantitative",
              "scale": {"domain": [0, 100], "nice": false},
              "axis": {
                "ticks": false, "labels": false, "domain": false,
                "title": "Intensity (A.U.)", "titleFont": "Liberation Serif", "titleFontSize": 86,
                "titleFontWeight": "normal", "titleColor": "black", "titleAngle": -90,
                "titleBaseline": "alphabetic", "titleX": -106, "titleY": 448, "titleAlign": "center"
              }
            }
          }
        },
        {
          "data": {"name": "notes"},
          "transform": [{"filter": "datum.panel === '30h' && datum.kind === 'title'"}],
          "mark": {"type": "text", "font": "Liberation Serif", "fontSize": 92, "color": "black", "align": "center", "baseline": "alphabetic"},
          "encoding": {
            "x": {"field": "pos", "type": "quantitative"},
            "y": {"field": "intensity", "type": "quantitative"},
            "text": {"field": "label"}
          }
        },
        {
          "data": {"name": "notes"},
          "transform": [{"filter": "datum.panel === '30h' && datum.kind === 'peak'"}],
          "mark": {"type": "text", "font": "Liberation Serif", "fontSize": 68, "color": "#1a1a1a", "align": "center", "baseline": "alphabetic"},
          "encoding": {
            "x": {"field": "pos", "type": "quantitative"},
            "y": {"field": "intensity", "type": "quantitative"},
            "text": {"field": "label"}
          }
        }
      ]
    },
    {
      "width": 1930,
      "height": 900,
      "layer": [
        {
          "data": {"name": "scans"},
          "transform": [{"filter": "datum.panel === '1h'"}],
          "mark": {"type": "line", "color": "black", "strokeWidth": 6},
          "encoding": {
            "x": {
              "field": "pos", "type": "quantitative",
              "scale": {"domain": [10, 70], "nice": false, "zero": false},
              "axis": {
                "values": [10, 20, 30, 40, 50, 60, 70],
                "domain": false, "tickColor": "black", "tickWidth": 3, "tickSize": 23,
                "labelFont": "Liberation Sans", "labelFontSize": 62, "labelColor": "black",
                "labelBaseline": "alphabetic", "labelPadding": 97, "labelFlush": false,
                "title": "Position ( °2Θ )", "titleFont": "Liberation Serif", "titleFontSize": 86,
                "titleFontWeight": "normal", "titleColor": "black",
                "titleBaseline": "alphabetic", "titleX": 965, "titleY": 265, "titleAlign": "center"
              }
            },
            "y": {
              "field": "intensity", "type": "quantitative",
              "scale": {"domain": [0, 100], "nice": false},
              "axis": {
                "ticks": false, "labels": false, "domain": false,
                "title": "Intensity (A.U.)", "titleFont": "Liberation Serif", "titleFontSize": 86,
                "titleFontWeight": "normal", "titleColor": "black", "titleAngle": -90,
                "titleBaseline": "alphabetic", "titleX": -106, "titleY": 448, "titleAlign": "center"
              }
            }
          }
        },
        {
          "data": {"name": "notes"},
          "transform": [{"filter": "datum.panel === '1h' && datum.kind === 'title'"}],
          "mark": {"type": "text", "font": "Liberation Serif", "fontSize": 92, "color": "black", "align": "center", "baseline": "alphabetic"},
          "encoding": {
            "x": {"field": "pos", "type": "quantitative"},
            "y": {"field": "intensity", "type": "quantitative"},
            "text": {"field": "label"}
          }
        },
        {
          "data": {"name": "notes"},
          "transform": [{"filter": "datum.panel === '1h' && datum.kind === 'peak'"}],
          "mark": {"type": "text", "font": "Liberation Serif", "fontSize": 68, "color": "#1a1a1a", "align": "center", "baseline": "alphabetic"},
          "encoding": {
            "x": {"field": "pos", "type": "quantitative"},
            "y": {"field": "intensity", "type": "quantitative"},
            "text": {"field": "label"}
          }
        }
      ]
    }
  ]
}
